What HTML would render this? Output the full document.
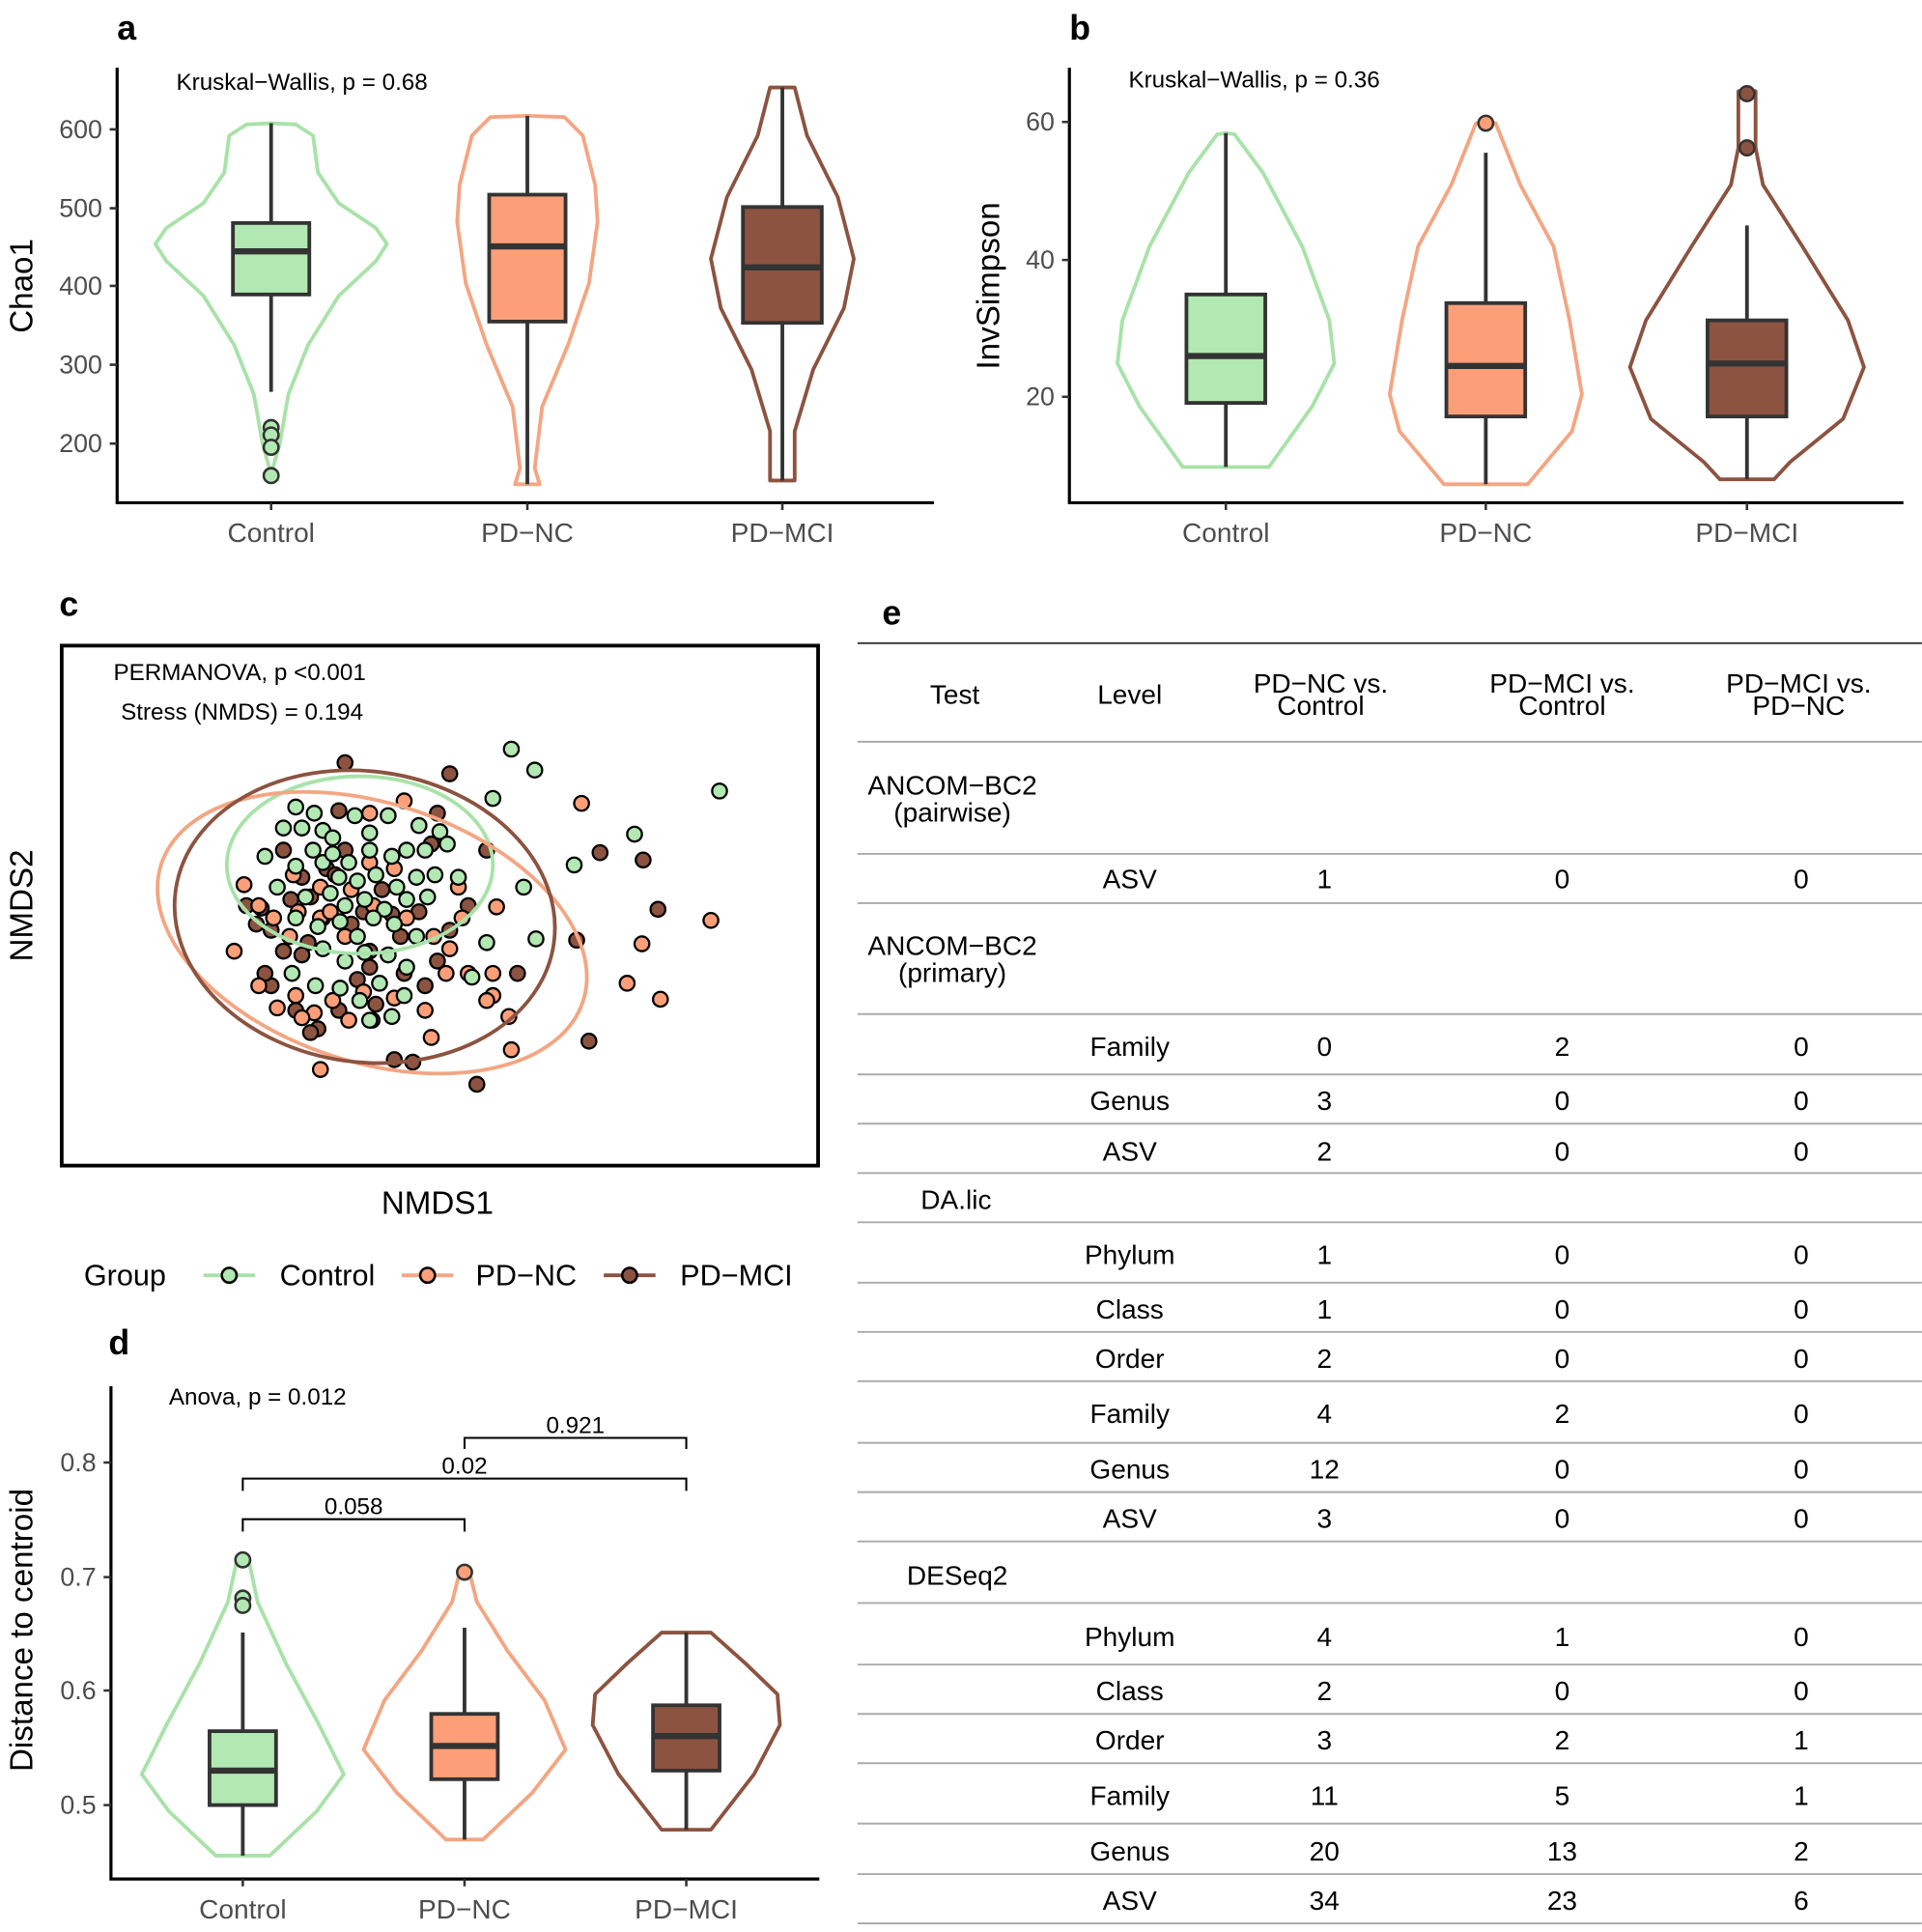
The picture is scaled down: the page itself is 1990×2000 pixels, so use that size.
<!DOCTYPE html>
<html><head><meta charset="utf-8"><style>html,body{margin:0;padding:0;background:#fff}svg{display:block}text{font-family:"Liberation Sans",sans-serif}</style></head>
<body>
<svg width="1990" height="2000" viewBox="0 0 1560 1568" xmlns="http://www.w3.org/2000/svg">
<g font-size="28" font-weight="bold"><text x="95" y="32">a</text><text x="868" y="32">b</text><text x="48" y="500">c</text><text x="88" y="1099">d</text><text x="716" y="507">e</text></g>

<!-- violins -->
<g fill="none" stroke-width="3" stroke-linejoin="round">
<path stroke="#a8e2a8" d="M220 100L240 101 254 110 258 140 275 165 305 185 314 198 305 212 275 240 250 280 234 320 227 360 220 385 213 360 206 320 190 280 165 240 135 212 126 198 135 185 165 165 182 140 186 110 200 101Z"/>
<path stroke="#f4a582" d="M428 94L458 95 473 110 483 150 485 180 478 230 461 280 440 330 434 380 438 393 418 393 422 380 416 330 395 280 378 230 371 180 373 150 383 110 398 95Z"/>
<path stroke="#8c5340" d="M625 71L645 71 655 110 680 160 693 210 685 250 660 300 645 350 645 390 625 390 625 350 610 300 585 250 577 210 590 160 615 110Z"/>
<path stroke="#a8e2a8" d="M995 108L1002 109 1025 140 1057 200 1079 260 1083 295 1065 330 1030 379 960 379 925 330 907 295 911 260 933 200 965 140 988 109Z"/>
<path stroke="#f4a582" d="M1206 99L1214 100 1234 150 1261 200 1274 260 1284 320 1276 350 1240 393 1172 393 1136 350 1128 320 1138 260 1151 200 1178 150 1198 100Z"/>
<path stroke="#8c5340" d="M1418 73L1425 74 1425 120 1431 150 1463 200 1500 260 1513 298 1496 340 1453 375 1440 389 1396 389 1383 375 1340 340 1323 298 1336 260 1373 200 1405 150 1411 120 1411 74Z"/>
<path stroke="#a8e2a8" d="M197 1266L202 1267 209 1300 232 1350 259 1400 279 1440 257 1470 219 1506 175 1506 137 1470 115 1440 135 1400 162 1350 185 1300 192 1267Z"/>
<path stroke="#f4a582" d="M377 1275L381 1276 387 1300 412 1340 442 1380 459 1420 432 1455 392 1493 362 1493 322 1455 295 1420 312 1380 342 1340 367 1300 373 1276Z"/>
<path stroke="#8c5340" d="M537 1325L577 1325 605 1350 631 1375 633 1400 612 1440 577 1485 537 1485 502 1440 481 1400 483 1375 509 1350Z"/>
</g>
<!-- boxes -->
<g stroke="#333" stroke-width="3">
<path d="M220 100V181M220 239V318M428 94V158M428 261V393M635 71V168M635 262V390M995 108V239M995 327V379M1206 124V246M1206 338V393M1418 183V260M1418 338V389M197 1325V1405M197 1465V1506M377 1321V1391M377 1444V1493M557 1325V1384M557 1437V1485"/>
<rect x="189" y="181" width="62" height="58" fill="#b2e8b2"/>
<rect x="397" y="158" width="62" height="103" fill="#fc9f78"/>
<rect x="603" y="168" width="64" height="94" fill="#8c5340"/>
<rect x="963" y="239" width="64" height="88" fill="#b2e8b2"/>
<rect x="1174" y="246" width="64" height="92" fill="#fc9f78"/>
<rect x="1386" y="260" width="64" height="78" fill="#8c5340"/>
<rect x="170" y="1405" width="54" height="60" fill="#b2e8b2"/>
<rect x="350" y="1391" width="54" height="53" fill="#fc9f78"/>
<rect x="530" y="1384" width="54" height="53" fill="#8c5340"/>
</g>
<g stroke="#333" stroke-width="5"><path d="M189 204H251M397 200H459M603 217H667M963 289H1027M1174 297H1238M1386 295H1450M170 1437H224M350 1417H404M530 1409H584"/></g>
<g stroke="#333" stroke-width="2">
<g fill="#b2e8b2"><circle cx="220" cy="347" r="6"/><circle cx="220" cy="353" r="6"/><circle cx="220" cy="363" r="6"/><circle cx="220" cy="386" r="6"/><circle cx="197" cy="1266" r="6"/><circle cx="197" cy="1297" r="6"/><circle cx="197" cy="1303" r="6"/></g>
<g fill="#fc9f78"><circle cx="1206" cy="100" r="6"/><circle cx="377" cy="1276" r="6"/></g>
<g fill="#8c5340"><circle cx="1418" cy="76" r="6"/><circle cx="1418" cy="120" r="6"/></g>
</g>

<!-- axes -->
<g stroke="#000" stroke-width="2.5" fill="none"><path d="M95 55V408H758"/><path d="M868 55V408H1545"/><path d="M90 1125V1525H665"/></g>
<g font-size="21" fill="#4d4d4d" text-anchor="end">
<text x="83" y="112">600</text><text x="83" y="176">500</text><text x="83" y="239">400</text><text x="83" y="303">300</text><text x="83" y="367">200</text>
<text x="856" y="106">60</text><text x="856" y="218">40</text><text x="856" y="329">20</text>
<text x="78" y="1194">0.8</text><text x="78" y="1287">0.7</text><text x="78" y="1379">0.6</text><text x="78" y="1472">0.5</text>
</g>
<g stroke="#333" stroke-width="2"><path d="M89 105h6M89 169h6M89 232h6M89 296h6M89 360h6M862 99h6M862 211h6M862 322h6M84 1187h6M84 1280h6M84 1372h6M84 1465h6M220 408v6M428 408v6M635 408v6M995 408v6M1206 408v6M1418 408v6M197 1525v6M377 1525v6M557 1525v6"/></g>
<g font-size="22" fill="#4d4d4d" text-anchor="middle">
<text x="220" y="440">Control</text><text x="428" y="440">PD−NC</text><text x="635" y="440">PD−MCI</text>
<text x="995" y="440">Control</text><text x="1206" y="440">PD−NC</text><text x="1418" y="440">PD−MCI</text>
<text x="197" y="1557">Control</text><text x="377" y="1557">PD−NC</text><text x="557" y="1557">PD−MCI</text>
</g>
<g font-size="26" text-anchor="middle">
<text transform="translate(26,232) rotate(-90)">Chao1</text>
<text transform="translate(811,232) rotate(-90)">InvSimpson</text>
<text transform="translate(26,1323) rotate(-90)">Distance to centroid</text>
<text transform="translate(26,735) rotate(-90)">NMDS2</text>
<text x="355" y="985">NMDS1</text>
</g>
<g font-size="19"><text x="143" y="73">Kruskal−Wallis, p = 0.68</text><text x="916" y="71">Kruskal−Wallis, p = 0.36</text><text x="92" y="552">PERMANOVA, p &lt;0.001</text><text x="98" y="584">Stress (NMDS) =  0.194</text><text x="137" y="1140">Anova, p = 0.012</text></g>
<g stroke="#000" stroke-width="1.6" fill="none"><path d="M377 1176V1167H557V1176M197 1210V1200H557V1210M197 1243V1233H377V1243"/></g>
<g font-size="19" text-anchor="middle"><text x="467" y="1163">0.921</text><text x="377" y="1196">0.02</text><text x="287" y="1229">0.058</text></g>

<!-- panel c -->
<rect x="50" y="524" width="614" height="422" fill="none" stroke="#000" stroke-width="3"/>
<g stroke="#000" stroke-width="1.8">
<g fill="#8c5340"><circle cx="212" cy="737" r="6"/><circle cx="220" cy="755" r="6"/><circle cx="230" cy="772" r="6"/><circle cx="208" cy="750" r="6"/><circle cx="245" cy="712" r="6"/><circle cx="252" cy="728" r="6"/><circle cx="265" cy="705" r="6"/><circle cx="280" cy="690" r="6"/><circle cx="295" cy="740" r="6"/><circle cx="310" cy="722" r="6"/><circle cx="325" cy="760" r="6"/><circle cx="340" cy="740" r="6"/><circle cx="355" cy="780" r="6"/><circle cx="220" cy="800" r="6"/><circle cx="240" cy="820" r="6"/><circle cx="258" cy="835" r="6"/><circle cx="275" cy="820" r="6"/><circle cx="290" cy="795" r="6"/><circle cx="305" cy="815" r="6"/><circle cx="328" cy="790" r="6"/><circle cx="345" cy="800" r="6"/><circle cx="365" cy="755" r="6"/><circle cx="380" cy="735" r="6"/><circle cx="395" cy="690" r="6"/><circle cx="420" cy="790" r="6"/><circle cx="230" cy="690" r="6"/><circle cx="275" cy="658" r="6"/><circle cx="285" cy="750" r="6"/><circle cx="250" cy="765" r="6"/><circle cx="300" cy="772" r="6"/><circle cx="350" cy="685" r="6"/><circle cx="355" cy="660" r="6"/><circle cx="272" cy="710" r="6"/><circle cx="320" cy="860" r="6"/><circle cx="335" cy="862" r="6"/><circle cx="387" cy="880" r="6"/><circle cx="478" cy="845" r="6"/><circle cx="468" cy="763" r="6"/><circle cx="487" cy="692" r="6"/><circle cx="522" cy="698" r="6"/><circle cx="534" cy="738" r="6"/><circle cx="280" cy="619" r="6"/><circle cx="365" cy="628" r="6"/><circle cx="200" cy="735" r="6"/><circle cx="215" cy="790" r="6"/><circle cx="245" cy="775" r="6"/><circle cx="300" cy="785" r="6"/><circle cx="252" cy="838" r="6"/><circle cx="262" cy="745" r="6"/><circle cx="318" cy="742" r="6"/><circle cx="236" cy="730" r="6"/></g>
<g fill="#fc9f78"><circle cx="198" cy="718" r="6"/><circle cx="210" cy="735" r="6"/><circle cx="222" cy="745" r="6"/><circle cx="242" cy="740" r="6"/><circle cx="260" cy="745" r="6"/><circle cx="238" cy="710" r="6"/><circle cx="260" cy="720" r="6"/><circle cx="285" cy="722" r="6"/><circle cx="303" cy="735" r="6"/><circle cx="330" cy="745" r="6"/><circle cx="352" cy="760" r="6"/><circle cx="372" cy="720" r="6"/><circle cx="375" cy="745" r="6"/><circle cx="365" cy="770" r="6"/><circle cx="190" cy="772" r="6"/><circle cx="210" cy="800" r="6"/><circle cx="225" cy="818" r="6"/><circle cx="240" cy="808" r="6"/><circle cx="255" cy="822" r="6"/><circle cx="270" cy="812" r="6"/><circle cx="295" cy="805" r="6"/><circle cx="320" cy="810" r="6"/><circle cx="345" cy="820" r="6"/><circle cx="362" cy="790" r="6"/><circle cx="380" cy="790" r="6"/><circle cx="400" cy="790" r="6"/><circle cx="400" cy="808" r="6"/><circle cx="413" cy="825" r="6"/><circle cx="415" cy="852" r="6"/><circle cx="350" cy="842" r="6"/><circle cx="302" cy="828" r="6"/><circle cx="260" cy="868" r="6"/><circle cx="245" cy="826" r="6"/><circle cx="283" cy="828" r="6"/><circle cx="280" cy="760" r="6"/><circle cx="300" cy="700" r="6"/><circle cx="320" cy="705" r="6"/><circle cx="268" cy="740" r="6"/><circle cx="472" cy="652" r="6"/><circle cx="521" cy="766" r="6"/><circle cx="509" cy="798" r="6"/><circle cx="536" cy="811" r="6"/><circle cx="577" cy="747" r="6"/><circle cx="395" cy="812" r="6"/><circle cx="235" cy="760" r="6"/><circle cx="328" cy="650" r="6"/><circle cx="300" cy="660" r="6"/><circle cx="403" cy="736" r="6"/></g>
<g fill="#b2e8b2"><circle cx="230" cy="672" r="6"/><circle cx="245" cy="672" r="6"/><circle cx="262" cy="674" r="6"/><circle cx="288" cy="662" r="6"/><circle cx="300" cy="676" r="6"/><circle cx="315" cy="662" r="6"/><circle cx="340" cy="670" r="6"/><circle cx="357" cy="675" r="6"/><circle cx="254" cy="690" r="6"/><circle cx="270" cy="680" r="6"/><circle cx="283" cy="700" r="6"/><circle cx="300" cy="690" r="6"/><circle cx="318" cy="695" r="6"/><circle cx="330" cy="690" r="6"/><circle cx="345" cy="690" r="6"/><circle cx="363" cy="685" r="6"/><circle cx="240" cy="703" r="6"/><circle cx="262" cy="700" r="6"/><circle cx="275" cy="712" r="6"/><circle cx="290" cy="715" r="6"/><circle cx="305" cy="710" r="6"/><circle cx="322" cy="720" r="6"/><circle cx="338" cy="712" r="6"/><circle cx="353" cy="710" r="6"/><circle cx="372" cy="712" r="6"/><circle cx="225" cy="720" r="6"/><circle cx="248" cy="728" r="6"/><circle cx="268" cy="725" r="6"/><circle cx="280" cy="735" r="6"/><circle cx="296" cy="730" r="6"/><circle cx="312" cy="738" r="6"/><circle cx="330" cy="730" r="6"/><circle cx="347" cy="728" r="6"/><circle cx="240" cy="745" r="6"/><circle cx="258" cy="752" r="6"/><circle cx="276" cy="748" r="6"/><circle cx="290" cy="760" r="6"/><circle cx="303" cy="745" r="6"/><circle cx="320" cy="750" r="6"/><circle cx="338" cy="760" r="6"/><circle cx="262" cy="770" r="6"/><circle cx="280" cy="780" r="6"/><circle cx="296" cy="773" r="6"/><circle cx="315" cy="775" r="6"/><circle cx="330" cy="785" r="6"/><circle cx="237" cy="790" r="6"/><circle cx="256" cy="800" r="6"/><circle cx="276" cy="802" r="6"/><circle cx="292" cy="812" r="6"/><circle cx="308" cy="798" r="6"/><circle cx="328" cy="808" r="6"/><circle cx="300" cy="828" r="6"/><circle cx="318" cy="825" r="6"/><circle cx="383" cy="793" r="6"/><circle cx="395" cy="765" r="6"/><circle cx="435" cy="762" r="6"/><circle cx="425" cy="720" r="6"/><circle cx="400" cy="648" r="6"/><circle cx="466" cy="702" r="6"/><circle cx="415" cy="608" r="6"/><circle cx="434" cy="625" r="6"/><circle cx="584" cy="642" r="6"/><circle cx="515" cy="677" r="6"/><circle cx="255" cy="660" r="6"/><circle cx="270" cy="693" r="6"/><circle cx="240" cy="655" r="6"/><circle cx="215" cy="695" r="6"/></g>
</g>
<g fill="none" stroke-width="3">
<ellipse cx="292" cy="702" rx="108" ry="72" stroke="#a8e2a8"/>
<ellipse cx="302" cy="757" rx="180" ry="105" stroke="#f4a582" transform="rotate(18 302 757)"/>
<ellipse cx="296" cy="744" rx="155" ry="118" stroke="#8c5340" transform="rotate(8 296 744)"/>
</g>

<!-- legend -->
<g font-size="24"><text x="68" y="1043">Group</text><text x="227" y="1043">Control</text><text x="386" y="1043">PD−NC</text><text x="552" y="1043">PD−MCI</text></g>
<g stroke-width="3"><path d="M165 1035h42" stroke="#a8e2a8"/><path d="M326 1035h42" stroke="#f4a582"/><path d="M490 1035h42" stroke="#8c5340"/></g>
<g stroke="#000" stroke-width="2"><circle cx="186" cy="1035" r="6" fill="#b2e8b2"/><circle cx="347" cy="1035" r="6" fill="#fc9f78"/><circle cx="511" cy="1035" r="6" fill="#8c5340"/></g>

<!-- table -->
<path d="M696 522H1560" stroke="#333" stroke-width="1.5"/>
<path stroke="#aaa" stroke-width="1.5" d="M696 602H1560M696 693H1560M696 733H1560M696 823H1560M696 872H1560M696 912H1560M696 952H1560M696 992H1560M696 1041H1560M696 1081H1560M696 1121H1560M696 1171H1560M696 1211H1560M696 1251H1560M696 1301H1560M696 1351H1560M696 1391H1560M696 1431H1560M696 1480H1560M696 1521H1560M696 1561H1560"/>
<g font-size="22" text-anchor="middle">
<text x="775" y="571">Test</text><text x="917" y="571">Level</text>
<text x="1072" y="562">PD−NC vs.</text><text x="1072" y="580">Control</text>
<text x="1268" y="562">PD−MCI vs.</text><text x="1268" y="580">Control</text>
<text x="1460" y="562">PD−MCI vs.</text><text x="1460" y="580">PD−NC</text>
<text x="773" y="645">ANCOM−BC2</text><text x="773" y="667">(pairwise)</text>
<text x="773" y="775">ANCOM−BC2</text><text x="773" y="797">(primary)</text>
<text x="776" y="981">DA.lic</text><text x="777" y="1286">DESeq2</text>
<text x="917" y="721">ASV</text><text x="1075" y="721">1</text><text x="1268" y="721">0</text><text x="1462" y="721">0</text>
<text x="917" y="857">Family</text><text x="1075" y="857">0</text><text x="1268" y="857">2</text><text x="1462" y="857">0</text>
<text x="917" y="901">Genus</text><text x="1075" y="901">3</text><text x="1268" y="901">0</text><text x="1462" y="901">0</text>
<text x="917" y="942">ASV</text><text x="1075" y="942">2</text><text x="1268" y="942">0</text><text x="1462" y="942">0</text>
<text x="917" y="1026">Phylum</text><text x="1075" y="1026">1</text><text x="1268" y="1026">0</text><text x="1462" y="1026">0</text>
<text x="917" y="1070">Class</text><text x="1075" y="1070">1</text><text x="1268" y="1070">0</text><text x="1462" y="1070">0</text>
<text x="917" y="1110">Order</text><text x="1075" y="1110">2</text><text x="1268" y="1110">0</text><text x="1462" y="1110">0</text>
<text x="917" y="1155">Family</text><text x="1075" y="1155">4</text><text x="1268" y="1155">2</text><text x="1462" y="1155">0</text>
<text x="917" y="1200">Genus</text><text x="1075" y="1200">12</text><text x="1268" y="1200">0</text><text x="1462" y="1200">0</text>
<text x="917" y="1240">ASV</text><text x="1075" y="1240">3</text><text x="1268" y="1240">0</text><text x="1462" y="1240">0</text>
<text x="917" y="1336">Phylum</text><text x="1075" y="1336">4</text><text x="1268" y="1336">1</text><text x="1462" y="1336">0</text>
<text x="917" y="1380">Class</text><text x="1075" y="1380">2</text><text x="1268" y="1380">0</text><text x="1462" y="1380">0</text>
<text x="917" y="1420">Order</text><text x="1075" y="1420">3</text><text x="1268" y="1420">2</text><text x="1462" y="1420">1</text>
<text x="917" y="1465">Family</text><text x="1075" y="1465">11</text><text x="1268" y="1465">5</text><text x="1462" y="1465">1</text>
<text x="917" y="1510">Genus</text><text x="1075" y="1510">20</text><text x="1268" y="1510">13</text><text x="1462" y="1510">2</text>
<text x="917" y="1550">ASV</text><text x="1075" y="1550">34</text><text x="1268" y="1550">23</text><text x="1462" y="1550">6</text>
</g>
</svg>
</body></html>
